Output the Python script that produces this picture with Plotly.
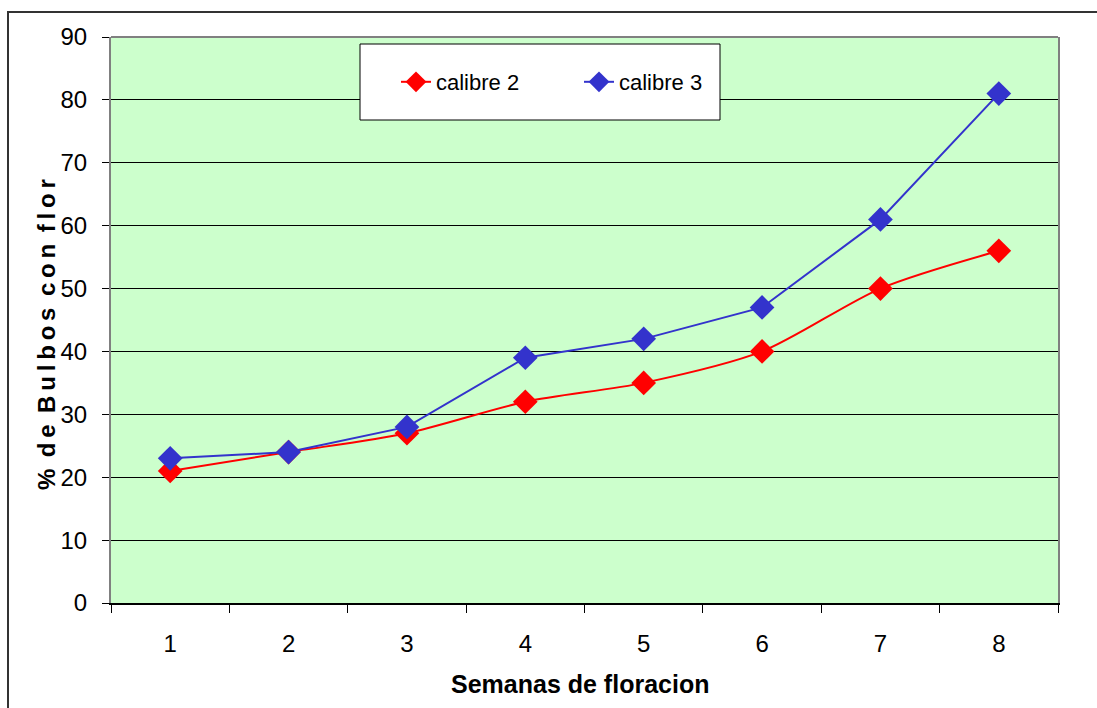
import plotly.graph_objects as go

semanas = ["1", "2", "3", "4", "5", "6", "7", "8"]
calibre2 = [21, 24, 27, 32, 35, 40, 50, 56]
calibre3 = [23, 24, 28, 39, 42, 47, 61, 81]
y_ticks = [0, 10, 20, 30, 40, 50, 60, 70, 80, 90]

FONT = "Liberation Sans, Arial"

fig = go.Figure()
fig.add_trace(go.Scatter(
    x=semanas, y=calibre2, name="calibre 2", mode="lines+markers",
    line=dict(color="#FF0000", width=2, shape="spline", smoothing=0.8),
    marker=dict(symbol="diamond", size=19, color="#FF0000"),
))
fig.add_trace(go.Scatter(
    x=semanas, y=calibre3, name="calibre 3", mode="lines+markers",
    line=dict(color="#3333CC", width=2),
    marker=dict(symbol="diamond", size=19, color="#3333CC"),
))

W, H = 1097, 708
L, R, T, B = 111, 39, 37, 105
pw, ph = W - L - R, H - T - B

def px(x):
    return (x - L) / pw

def py(y):
    return (H - B - y) / ph

ytitle = "\u2009".join("% de Bulbos con flor").replace(" \u2009", " ")

fig.update_layout(
    width=W, height=H,
    margin=dict(l=L, r=R, t=T, b=B),
    paper_bgcolor="white",
    plot_bgcolor="#CCFFCC",
    font=dict(family=FONT, size=24, color="black"),
    showlegend=True,
    legend=dict(
        orientation="h", x=px(396), y=py(82), xanchor="left", yanchor="middle",
        bgcolor="rgba(0,0,0,0)", borderwidth=0, entrywidth=138, entrywidthmode="pixels",
        font=dict(family=FONT, size=22),
    ),
    xaxis=dict(
        type="category", tickson="boundaries", ticks="outside", ticklen=8,
        tickcolor="black", tickwidth=1, showline=True, linecolor="black", linewidth=2,
        showgrid=False, tickfont=dict(family=FONT, size=24), ticklabelstandoff=18,
        range=[-0.5, 7.5],
    ),
    yaxis=dict(
        range=[0, 90], tickvals=y_ticks, ticks="outside", ticklen=7, tickcolor="black",
        showline=True, linecolor="#808080", linewidth=2, mirror=True,
        showgrid=True, gridcolor="black", gridwidth=1, zeroline=False,
        tickfont=dict(family=FONT, size=24), ticklabelstandoff=10,
    ),
    shapes=[
        dict(type="line", xref="paper", yref="paper", x0=0, x1=1, y0=1, y1=1,
             line=dict(color="#808080", width=2)),
        dict(type="rect", xref="paper", yref="paper",
             x0=px(8), x1=px(1110), y0=py(12), y1=py(720),
             line=dict(color="#333333", width=2), fillcolor="rgba(0,0,0,0)", layer="below"),
        dict(type="rect", xref="paper", yref="paper",
             x0=px(360), x1=px(720), y0=py(44), y1=py(120),
             line=dict(color="black", width=1), fillcolor="white", layer="above"),
    ],
    annotations=[
        dict(text="<b>Semanas de floracion</b>", xref="paper", yref="paper",
             x=px(580), y=py(684), showarrow=False, xanchor="center", yanchor="middle",
             font=dict(family=FONT, size=25)),
        dict(text="<b>" + ytitle + "</b>",
             xref="paper", yref="paper", textangle=-90,
             x=px(46), y=py(335), showarrow=False, xanchor="center", yanchor="middle",
             font=dict(family=FONT, size=24)),
    ],
)

fig.write_html("out.html")
